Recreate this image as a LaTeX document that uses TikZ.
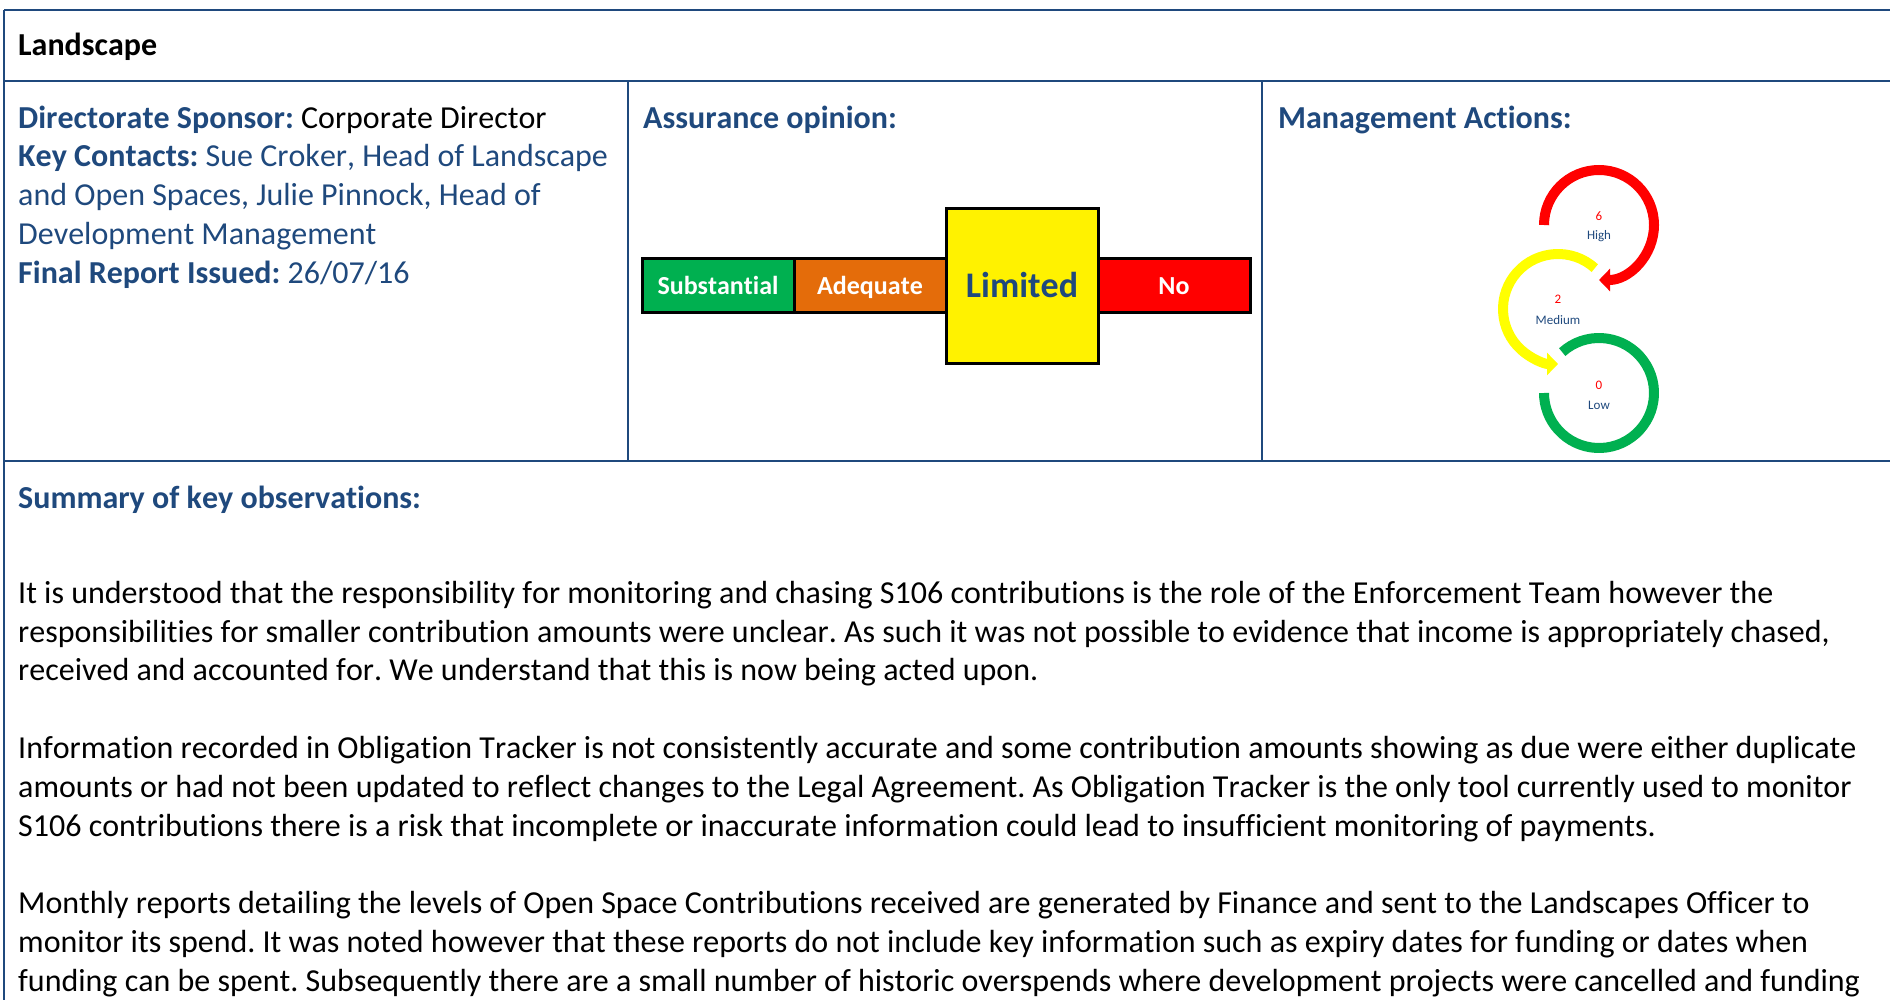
\documentclass[tikz,border=0pt]{standalone}
\usepackage{fontspec}
\setmainfont{Carlito}[Ligatures=CommonOff,Kerning=Off]
\usetikzlibrary{positioning,arrows.meta}

\definecolor{hdblue}{RGB}{31,73,125}
\definecolor{subgreen}{RGB}{0,176,80}
\definecolor{adqorange}{RGB}{228,108,10}
\definecolor{ringred}{RGB}{255,0,0}
\definecolor{ringyellow}{RGB}{255,255,0}
\newcommand\bodyfont{\fontsize{32}{38.8}\selectfont\frenchspacing}

\begin{document}
\begin{tikzpicture}[x=1pt,y=1pt,
grid/.style={draw=hdblue, line width=1.6pt},
txt/.style={anchor=north west, inner sep=0pt, align=left, font=\bodyfont},
seg/.style={draw=black, line width=3pt, minimum width=152pt, minimum height=54pt,
  inner sep=0pt, outer sep=0pt, text=white, text height=16.5pt, text depth=0pt,
  font=\bfseries\fontsize{26}{30}\selectfont},
ring/.style={line width=10pt},
ringtip/.style={-{Triangle[length=11pt,width=22pt]}},
num/.style={anchor=base, inner sep=0pt, text=ringred, font=\fontsize{13}{16}\selectfont},
lvl/.style={anchor=base, inner sep=0pt, text=hdblue, font=\fontsize{13}{16}\selectfont}
]
\useasboundingbox (0,0) rectangle (1890,-1000);

% table rules
\draw[grid] (4,-10) -- (1900,-10);
\draw[grid] (4,-10) -- (4,-1010);
\draw[grid] (4,-81) -- (1900,-81);
\draw[grid] (4,-461) -- (1900,-461);
\draw[grid] (628,-81) -- (628,-461);
\draw[grid] (1262,-81) -- (1262,-461);

% header and first row
\node[txt, font=\bfseries\bodyfont] (title) at (18,-27.84) {\strut Landscape};
\node[txt, text=hdblue] (sponsor) at (18,-100.84) {\strut\textbf{Directorate Sponsor:} \textcolor{black}{Corporate Director}\\
\textbf{Key Contacts:} Sue Croker, Head of Landscape\\
and Open Spaces, Julie Pinnock, Head of\\
Development Management\\
\textbf{Final Report Issued:} 26/07/16};
\node[txt, text=hdblue, font=\bfseries\bodyfont] (opinion) at (643,-100.84) {\strut Assurance opinion:};
\node[txt, text=hdblue, font=\bfseries\bodyfont] (actions) at (1278,-100.84) {\strut Management Actions:};

% assurance bar
\node[seg, fill=subgreen] (subst) at (718,-286) {Substantial};
\node[seg, fill=adqorange, right=0pt of subst] (adeq) {Adequate};
\node[seg, fill=yellow, minimum height=155pt, text=hdblue, text height=23pt,
  font=\bfseries\fontsize{36}{40}\selectfont, right=0pt of adeq] (limited) {Limited};
\node[seg, fill=red, right=0pt of limited] (noop) {No};

% management actions rings
\coordinate (highc) at (1599,-225);
\coordinate (medc) at (1558,-309);
\coordinate (lowc) at (1599,-393);
\draw[ring, draw=ringred, ringtip] (highc) ++(180:55) arc[start angle=180, end angle=-90, radius=55];
\draw[ring, draw=ringyellow, ringtip] (medc) ++(48:55) arc[start angle=48, end angle=270, radius=55];
\draw[ring, draw=subgreen] (lowc) ++(132:55) arc[start angle=132, end angle=-180, radius=55];
\node[num] (highnum) at (1599,-221) {6};
\node[lvl] (highlbl) at (1599,-240) {High};
\node[num] (mednum) at (1558,-304) {2};
\node[lvl] (medlbl) at (1558,-324) {Medium};
\node[num] (lownum) at (1599,-389) {0};
\node[lvl] (lowlbl) at (1599,-409) {Low};

% summary
\node[txt, text=hdblue, font=\bfseries\bodyfont] (summary) at (18,-480.84) {\strut Summary of key observations:};
\node[txt] (obs) at (18,-575.84) {\strut It is understood that the responsibility for monitoring and chasing S106 contributions is the role of the Enforcement Team however the\\
responsibilities for smaller contribution amounts were unclear. As such it was not possible to evidence that income is appropriately chased,\\
received and accounted for. We understand that this is now being acted upon.\\[38.8pt]
Information recorded in Obligation Tracker is not consistently accurate and some contribution amounts showing as due were either duplicate\\
amounts or had not been updated to reflect changes to the Legal Agreement. As Obligation Tracker is the only tool currently used to monitor\\
S106 contributions there is a risk that incomplete or inaccurate information could lead to insufficient monitoring of payments.\\[38.8pt]
Monthly reports detailing the levels of Open Space Contributions received are generated by Finance and sent to the Landscapes Officer to\\
monitor its spend. It was noted however that these reports do not include key information such as expiry dates for funding or dates when\\
funding can be spent. Subsequently there are a small number of historic overspends where development projects were cancelled and funding};
\end{tikzpicture}
\end{document}
